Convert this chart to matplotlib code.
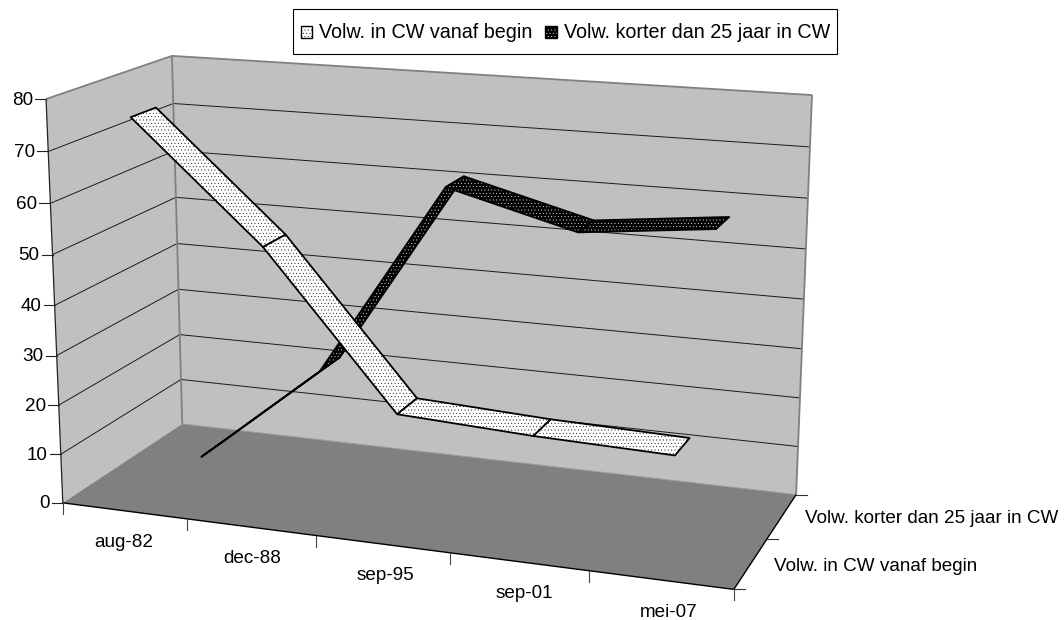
import numpy as np
import matplotlib
matplotlib.use("Agg")
import matplotlib.pyplot as plt
from matplotlib.colors import to_rgba
from matplotlib.patches import Polygon, Rectangle, Patch
from matplotlib.legend_handler import HandlerPatch

categories = ["aug-82", "dec-88", "sep-95", "sep-01", "mei-07"]
series_names = ["Volw. in CW vanaf begin", "Volw. korter dan 25 jaar in CW"]
vanaf_begin = [76, 53, 23, 21.7, 21]
korter_25 = [0, 21.2, 61, 54.2, 57]
value_ticks = [0, 10, 20, 30, 40, 50, 60, 70, 80]
VMAX = 80

plt.rcParams['font.family'] = ['Liberation Sans', 'DejaVu Sans']
plt.rcParams['hatch.linewidth'] = 0.25
FS = 13.6
LEG_FS = 14.25

# 3D box -> pixel homography, fitted from the box corners of the chart frame
corners = [((0,0,0),(62.7,502.7)),((1,0,0),(734,589.3)),((0,1,0),(182.3,424)),
           ((1,1,0),(796,494.7)),((0,0,1),(46,99.3)),((0,1,1),(172,55.7)),((1,1,1),(812,95))]
rows = []
for (x,y,z),(u,v) in corners:
    rows.append([x,y,z,1,0,0,0,0,-u*x,-u*y,-u*z,-u])
    rows.append([0,0,0,0,x,y,z,1,-v*x,-v*y,-v*z,-v])
P = np.linalg.svd(np.array(rows))[2][-1].reshape(3,4)

def proj(x, y, z):
    h = P @ np.array([x, y, z, 1.0])
    return h[0]/h[2], h[1]/h[2]

fig = plt.figure(figsize=(10.64, 6.20), dpi=100, facecolor='white')
ax = fig.add_axes([0, 0, 1, 1])
ax.set_xlim(0, 1064)
ax.set_ylim(620, 0)
ax.axis('off')

WALL = '#C0C0C0'
FLOOR = '#808080'

def face(pts, color, z=1):
    ax.add_patch(Polygon([proj(*p) for p in pts], closed=True, fc=color, ec='none', zorder=z))

def seg(a, b, color='black', lw=0.7, z=2):
    pa, pb = proj(*a), proj(*b)
    ax.plot([pa[0], pb[0]], [pa[1], pb[1]], color=color, lw=lw, zorder=z, solid_capstyle='butt')

face([(0,0,0),(0,1,0),(0,1,1),(0,0,1)], WALL)
face([(0,1,0),(1,1,0),(1,1,1),(0,1,1)], WALL)
face([(0,0,0),(1,0,0),(1,1,0),(0,1,0)], FLOOR)

# gridlines
for v in value_ticks[1:-1]:
    z = v / VMAX
    seg((0,0,z), (0,1,z), '#1a1a1a', 0.7)
    seg((0,1,z), (1,1,z), '#1a1a1a', 0.7)

# wall edges
seg((0,0,1), (0,1,1), '#808080', 1.3, 3)
seg((0,1,1), (1,1,1), '#808080', 1.3, 3)
seg((0,1,0), (0,1,1), '#808080', 1.3, 3)
seg((1,1,0), (1,1,1), '#808080', 1.3, 3)
seg((0,1,0), (1,1,0), '#9a9a9a', 0.7, 3)

# axes
seg((0,0,0), (0,0,1), '#222222', 0.9, 3)
seg((0,0,0), (1,0,0), 'black', 1.0, 3)
seg((1,0,0), (1,1,0), 'black', 1.0, 3)

def ribbon(vals, y0, y1, fc, hatch_c, hatch):
    n = len(vals)
    for i in range(n - 1):
        x0, x1 = (i + .5) / n, (i + 1.5) / n
        z0, z1 = vals[i] / VMAX, vals[i + 1] / VMAX
        q = [proj(x0, y0, z0), proj(x1, y0, z1), proj(x1, y1, z1), proj(x0, y1, z0)]
        ax.add_patch(Polygon(q, closed=True, fc=fc, ec=hatch_c, lw=0, hatch=hatch, zorder=5))
        ax.add_patch(Polygon(q, closed=True, fc='none', ec='black', lw=1.3, zorder=5, joinstyle='round'))

ribbon(korter_25, 0.65, 0.85, 'black', 'white', '.....')
ribbon(vanaf_begin, 0.15, 0.35, 'white', 'black', '.....')

# value axis ticks + labels
for v in value_ticks:
    px, py = proj(0, 0, v / VMAX)
    ax.plot([px - 11, px], [py, py], color='#222222', lw=0.8, zorder=3)
    ax.text(px - 13, py + 1, str(v), ha='right', va='center', fontsize=FS, color='black')

# category ticks + labels
n = len(categories)
for i in range(n + 1):
    px, py = proj(i / n, 0, 0)
    ax.plot([px, px], [py, py + 11], color='#444444', lw=0.8, zorder=3)
for i, c in enumerate(categories):
    px, py = proj((i + .5) / n, 0, 0)
    ax.text(px - 1 + 2.2 * i, py + 31.5 + 0.2 * i, c, ha='center', va='center', fontsize=FS, color='black')

# depth ticks + labels
for k in range(len(series_names) + 1):
    px, py = proj(1, k / len(series_names), 0)
    ax.plot([px, px + 11], [py, py], color='#333333', lw=0.8, zorder=3)
for k, s in enumerate(series_names):
    px, py = proj(1, (k + .5) / len(series_names), 0)
    ax.text(px + 23, py + 2.5, s, ha='left', va='center', fontsize=FS, color='black')

# legend
def swatch(legend, orig_handle, xdescent, ydescent, width, height, fontsize):
    h = 8.6
    return Rectangle((-xdescent, -ydescent + (height - h) / 2), width, h)

handles = [Patch(fc='white', ec='black', hatch='.....', lw=1.0),
           Patch(fc='black', ec='white', hatch='.....', lw=1.0)]
leg = ax.legend(handles, series_names, ncol=2, loc='upper left',
                bbox_to_anchor=(293.3, 9.3), bbox_transform=ax.transData, borderaxespad=0,
                fontsize=LEG_FS, frameon=True, fancybox=False, framealpha=1, edgecolor='black',
                handlelength=0.6, handleheight=1.98, handletextpad=0.33, columnspacing=0.66,
                borderpad=0.37, handler_map={Patch: HandlerPatch(patch_func=swatch)})
leg.get_frame().set_linewidth(0.8)
dark = leg.legend_handles[1]
dark.set_edgecolor('black')
dark._hatch_color = to_rgba('white')

fig.savefig('out.png', dpi=100, facecolor='white')
